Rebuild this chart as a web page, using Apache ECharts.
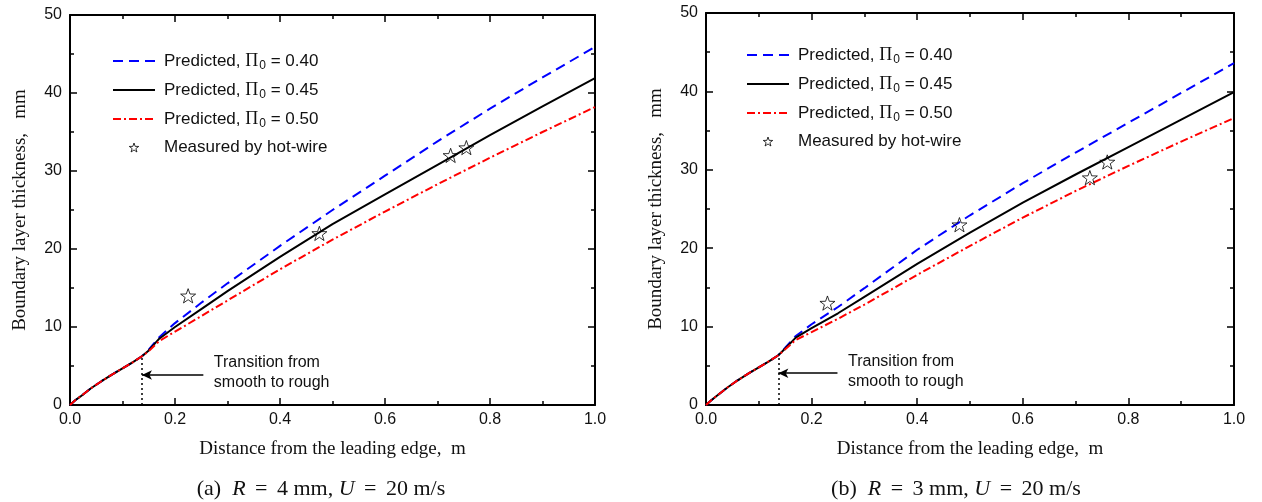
<!DOCTYPE html>
<html>
<head>
<meta charset="utf-8">
<script src="https://cdn.jsdelivr.net/npm/echarts@6/dist/echarts.min.js"></script>
<style>
  html, body { margin: 0; padding: 0; background: #fff; }
  #chart { width: 1262px; height: 502px; }
</style>
</head>
<body>
<div id="chart"></div>
<script>
// Distance from the leading edge (m) at which the predicted profiles are sampled
const distance = [0, 0.01, 0.02, 0.04, 0.06, 0.08, 0.10, 0.12, 0.137, 0.15, 0.17, 0.2, 0.25, 0.3, 0.4, 0.5, 0.6, 0.7, 0.8, 0.9, 1.0];

// (a) R = 4 mm — predicted boundary layer thickness (mm)
const predA040 = [0, 0.6, 1.1, 2.15, 3.05, 3.9, 4.7, 5.5, 6.25, 7.1, 8.7, 10.5, 13.1, 15.6, 20.4, 25.0, 29.4, 33.8, 38.0, 42.0, 45.9];
const predA045 = [0, 0.6, 1.1, 2.15, 3.05, 3.9, 4.7, 5.5, 6.25, 7.0, 8.5, 10.0, 12.3, 14.6, 19.0, 23.2, 27.0, 30.8, 34.6, 38.3, 41.9];
const predA050 = [0, 0.6, 1.1, 2.15, 3.05, 3.9, 4.7, 5.5, 6.25, 6.9, 8.2, 9.4, 11.4, 13.4, 17.4, 21.2, 24.8, 28.3, 31.7, 35.0, 38.2];
const hotWireA = [[0.225, 14], [0.475, 22], [0.725, 32], [0.755, 33]];

// (b) R = 3 mm — predicted boundary layer thickness (mm)
const predB040 = [0, 0.6, 1.15, 2.2, 3.15, 4.0, 4.8, 5.6, 6.35, 7.3, 8.8, 10.3, 12.5, 14.9, 19.8, 24.2, 28.3, 32.2, 36.0, 39.8, 43.6];
const predB045 = [0, 0.6, 1.15, 2.2, 3.15, 4.0, 4.8, 5.6, 6.35, 7.2, 8.6, 9.8, 11.7, 13.8, 18.0, 22.0, 25.8, 29.4, 32.9, 36.4, 39.9];
const predB050 = [0, 0.6, 1.15, 2.2, 3.15, 4.0, 4.8, 5.6, 6.35, 7.1, 8.3, 9.3, 11.0, 12.8, 16.6, 20.3, 23.9, 27.3, 30.5, 33.6, 36.6];
const hotWireB = [[0.23, 13], [0.48, 23], [0.727, 29], [0.76, 31]];

// Smooth-to-rough transition location (m) and its thickness (mm)
const transitionX = 0.137;
const transitionA = 6.25;
const transitionB = 6.35;

const legendLabels = {
  a40: 'Predicted, {pi|Π}{sub|0} = 0.40', a45: 'Predicted, {pi|Π}{sub|0} = 0.45',
  a50: 'Predicted, {pi|Π}{sub|0} = 0.50', aHW: 'Measured by hot-wire',
  b40: 'Predicted, {pi|Π}{sub|0} = 0.40', b45: 'Predicted, {pi|Π}{sub|0} = 0.45',
  b50: 'Predicted, {pi|Π}{sub|0} = 0.50', bHW: 'Measured by hot-wire'
};
const captions = ['(a)  {i|R} {eq|=} 4 mm, {i|U} {eq|=} 20 m/s', '(b)  {i|R} {eq|=} 3 mm, {i|U} {eq|=} 20 m/s'];

const STAR = 'path://M0,-10L2.35,-3.24L9.51,-3.09L3.8,1.24L5.88,8.09L0,4L-5.88,8.09L-3.8,1.24L-9.51,-3.09L-2.35,-3.24Z';
const SANS = 'Liberation Sans';
const SERIF = 'Liberation Serif';
const INK = '#111';

const zip = (xs, ys) => xs.map((x, i) => [x, ys[i]]);

function xAxisPair(gridIndex) {
  const common = {
    type: 'value', gridIndex, min: 0, max: 1, interval: 0.2,
    axisLine: { show: true, onZero: false, lineStyle: { color: '#000', width: 2 } },
    axisTick: { show: true, inside: true, length: 7, lineStyle: { color: '#000', width: 1.5 } },
    minorTick: { show: true, splitNumber: 2, length: 4, lineStyle: { color: '#000', width: 1.5 } },
    splitLine: { show: false }
  };
  return [
    Object.assign({}, common, {
      position: 'bottom',
      axisLabel: { color: INK, fontFamily: SANS, fontSize: 16, margin: 7, formatter: v => v.toFixed(1) },
      name: 'Distance from the leading edge,  m', nameLocation: 'middle', nameGap: 35,
      nameTextStyle: { color: INK, fontFamily: SERIF, fontSize: 19 }
    }),
    Object.assign({}, common, { position: 'top', axisLabel: { show: false } })
  ];
}

function yAxisPair(gridIndex) {
  const common = {
    type: 'value', gridIndex, min: 0, max: 50, interval: 10,
    axisLine: { show: true, onZero: false, lineStyle: { color: '#000', width: 2 } },
    axisTick: { show: true, inside: true, length: 7, lineStyle: { color: '#000', width: 1.5 } },
    minorTick: { show: true, splitNumber: 2, length: 4, lineStyle: { color: '#000', width: 1.5 } },
    splitLine: { show: false }
  };
  return [
    Object.assign({}, common, {
      position: 'left',
      axisLabel: { color: INK, fontFamily: SANS, fontSize: 16, margin: 8 },
      name: 'Boundary layer thickness,   mm', nameLocation: 'middle', nameGap: 40,
      nameTextStyle: { color: INK, fontFamily: SERIF, fontSize: 19 }
    }),
    Object.assign({}, common, { position: 'right', axisLabel: { show: false } })
  ];
}

function predictedSeries(name, axisBase, ys, color, type) {
  return {
    name, type: 'line', xAxisIndex: axisBase, yAxisIndex: axisBase,
    data: zip(distance, ys), showSymbol: false, symbol: 'none',
    lineStyle: { color, width: 2, type }, itemStyle: { color }, z: 3
  };
}

function annotations(yAtTransition, arrowY, textX, textY) {
  return {
    markLine: {
      silent: true, animation: false, symbol: ['none', 'none'],
      label: { show: false },
      data: [
        [{ coord: [transitionX, 0], lineStyle: { color: '#000', width: 1.5, type: [2, 3] } },
         { coord: [transitionX, yAtTransition] }],
        [{ coord: [textX - 0.02, arrowY], symbol: 'none', lineStyle: { color: '#000', width: 1.5, type: 'solid' } },
         { coord: [transitionX, arrowY], symbol: 'arrow', symbolSize: [7, 10] }]
      ]
    },
    markPoint: {
      silent: true, animation: false, symbol: 'circle', symbolSize: 0,
      data: [{
        coord: [textX, textY],
        label: {
          show: true, position: 'right', distance: 0,
          formatter: 'Transition from\nsmooth to rough',
          color: INK, fontFamily: SANS, fontSize: 16, lineHeight: 20
        }
      }]
    }
  };
}

function hotWireSeries(name, axisBase, pts) {
  return {
    name, type: 'scatter', xAxisIndex: axisBase, yAxisIndex: axisBase,
    data: pts, symbol: STAR, symbolSize: 15, symbolKeepAspect: true,
    itemStyle: { color: 'rgba(0,0,0,0)', borderColor: '#000', borderWidth: 1 }, z: 5
  };
}

function legendFor(names, left, top) {
  const hidden = { opacity: 0 };
  return {
    data: [
      { name: names[0], itemStyle: hidden },
      { name: names[1], itemStyle: hidden },
      { name: names[2], itemStyle: hidden },
      { name: names[3], itemStyle: { color: '#fff', borderColor: '#000', borderWidth: 1 } }
    ],
    orient: 'vertical', left, top, padding: 0, itemWidth: 42, itemHeight: 9, itemGap: 9.5,
    selectedMode: false,
    formatter: n => legendLabels[n],
    textStyle: {
      color: INK, fontFamily: SANS, fontSize: 17, padding: [0, 0, 0, 4],
      rich: {
        pi: { fontFamily: SERIF, fontSize: 18, color: INK },
        sub: { fontFamily: SANS, fontSize: 12, color: INK, padding: [9, 0, 0, 1] }
      }
    }
  };
}

const blueDash = [10, 6];
const redDashDot = [8, 3, 2, 3];

const blackA = predictedSeries('a45', 0, predA045, '#000', 'solid');
Object.assign(blackA, annotations(transitionA, 3.85, 0.274, 4.1));
const blackB = predictedSeries('b45', 2, predB045, '#000', 'solid');
Object.assign(blackB, annotations(transitionB, 4.05, 0.269, 4.25));

const captionStyle = {
  color: INK, fontFamily: SERIF, fontSize: 22, fontWeight: 'normal',
  rich: {
    i: { fontFamily: SERIF, fontSize: 22, fontStyle: 'italic', color: INK },
    eq: { fontFamily: SERIF, fontSize: 22, color: INK, padding: [0, 4, 0, 4] }
  }
};

const option = {
  animation: false,
  backgroundColor: '#fff',
  title: [
    { text: captions[0], left: 316, top: 473, textAlign: 'center', textStyle: captionStyle },
    { text: captions[1], left: 951, top: 473, textAlign: 'center', textStyle: captionStyle }
  ],
  grid: [
    { left: 70, top: 15, width: 525, height: 390, containLabel: false },
    { left: 706, top: 13, width: 528, height: 392, containLabel: false }
  ],
  xAxis: [...xAxisPair(0), ...xAxisPair(1)],
  yAxis: [...yAxisPair(0), ...yAxisPair(1)],
  legend: [
    legendFor(['a40', 'a45', 'a50', 'aHW'], 112, 52),
    legendFor(['b40', 'b45', 'b50', 'bHW'], 746, 46)
  ],
  series: [
    predictedSeries('a40', 0, predA040, '#0000ff', blueDash),
    blackA,
    predictedSeries('a50', 0, predA050, '#ff0000', redDashDot),
    hotWireSeries('aHW', 0, hotWireA),
    predictedSeries('b40', 2, predB040, '#0000ff', blueDash),
    blackB,
    predictedSeries('b50', 2, predB050, '#ff0000', redDashDot),
    hotWireSeries('bHW', 2, hotWireB)
  ]
};

const chart = echarts.init(document.getElementById('chart'), null, { renderer: 'canvas' });
chart.setOption(option);
</script>
</body>
</html>
